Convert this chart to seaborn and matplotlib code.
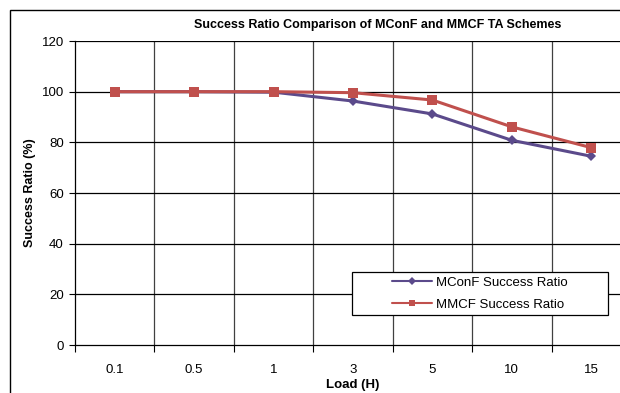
import matplotlib
matplotlib.use("Agg")
import matplotlib.pyplot as plt
import seaborn as sns
import pandas as pd
from matplotlib.patches import Rectangle
from matplotlib.lines import Line2D

loads = ["0.1", "0.5", "1", "3", "5", "10", "15"]
mconf = [100, 100, 99.8, 96.3, 91.2, 80.8, 74.5]
mmcf = [100, 100, 100, 99.6, 96.7, 86.1, 77.9]
yticks = [0, 20, 40, 60, 80, 100, 120]

sns.set_theme(style="white")
plt.rcParams["font.family"] = ["Liberation Sans", "DejaVu Sans"]
plt.rcParams["text.color"] = "black"
plt.rcParams["axes.labelcolor"] = "black"
plt.rcParams["xtick.color"] = "black"
plt.rcParams["ytick.color"] = "black"

fig = plt.figure(figsize=(6.2, 3.93), dpi=100)
W, H = 620, 393
ax = fig.add_axes([75 / W, 1 - 345 / H, 556 / W, 304 / H])

c_mconf = "#5B4A8B"
c_mmcf = "#C0504D"

df = pd.DataFrame({"Load": loads, "MConF": mconf, "MMCF": mmcf})
sns.lineplot(data=df, x="Load", y="MConF", ax=ax, color=c_mconf, lw=2.2,
             marker="D", markersize=5.5, markeredgewidth=0, sort=False)
sns.lineplot(data=df, x="Load", y="MMCF", ax=ax, color=c_mmcf, lw=2.2,
             marker="s", markersize=6.5, markeredgewidth=0, sort=False)

ax.set_xlim(-0.5, len(loads) - 0.5)
ax.set_ylim(0, 120)
ax.set_yticks(yticks)
ax.set_yticklabels([str(v) for v in yticks], fontsize=9.5)

bounds = [i - 0.5 for i in range(len(loads) + 1)]
ax.set_xticks(bounds)
ax.set_xticklabels([])
ax.set_xticks(range(len(loads)), minor=True)
ax.set_xticklabels(loads, minor=True, fontsize=9.5)
ax.tick_params(axis="x", which="major", direction="out", length=5, width=0.8, color="black", bottom=True)
ax.tick_params(axis="x", which="minor", length=0, pad=14)
ax.tick_params(axis="y", direction="out", length=4, width=0.8, color="black", left=True, pad=4)

ax.grid(False)
for b in bounds[1:]:
    ax.axvline(b, color="#404040", lw=0.9, zorder=0)
for v in yticks[1:]:
    ax.axhline(v, color="black", lw=0.9, zorder=0)

for s in ["top", "right"]:
    ax.spines[s].set_visible(False)
for s in ["left", "bottom"]:
    ax.spines[s].set_color("black")
    ax.spines[s].set_linewidth(0.9)

ax.set_xlabel("Load (H)", fontsize=9.5, fontweight="bold", labelpad=2)
ax.set_ylabel("Success Ratio (%)", fontsize=9, fontweight="bold", labelpad=4)
fig.text(378 / W, 1 - 25 / H, "Success Ratio Comparison of MConF and MMCF TA Schemes",
         ha="center", va="center", fontsize=9, fontweight="bold")

# legend frame
lx0, lx1, ly0, ly1 = 352, 608, 272, 315
ax.add_patch(Rectangle(((lx0 - 75) / 556, (345 - ly1) / 304), (lx1 - lx0) / 556, (ly1 - ly0) / 304,
                       transform=ax.transAxes, facecolor="white", edgecolor="black", lw=0.9, zorder=5))
handles = [Line2D([], [], color=c_mconf, lw=1.5, marker="D", markersize=4, markeredgewidth=0),
           Line2D([], [], color=c_mmcf, lw=1.5, marker="s", markersize=5, markeredgewidth=0)]
leg = ax.legend(handles, ["MConF Success Ratio", "MMCF Success Ratio"],
                loc="center", bbox_to_anchor=(((lx0 + lx1) / 2 - 75) / 556, (345 - (ly0 + ly1) / 2) / 304),
                fontsize=9.5, frameon=False, handlelength=3.0, handletextpad=0.3,
                labelspacing=0.75, borderpad=0)
leg.set_zorder(6)

fig.patches.append(Rectangle((10 / W, -0.1), 1.0, 1.1 - 10 / H, transform=fig.transFigure,
                             fill=False, edgecolor="black", lw=1.0))

fig.savefig("out.png", dpi=100)
